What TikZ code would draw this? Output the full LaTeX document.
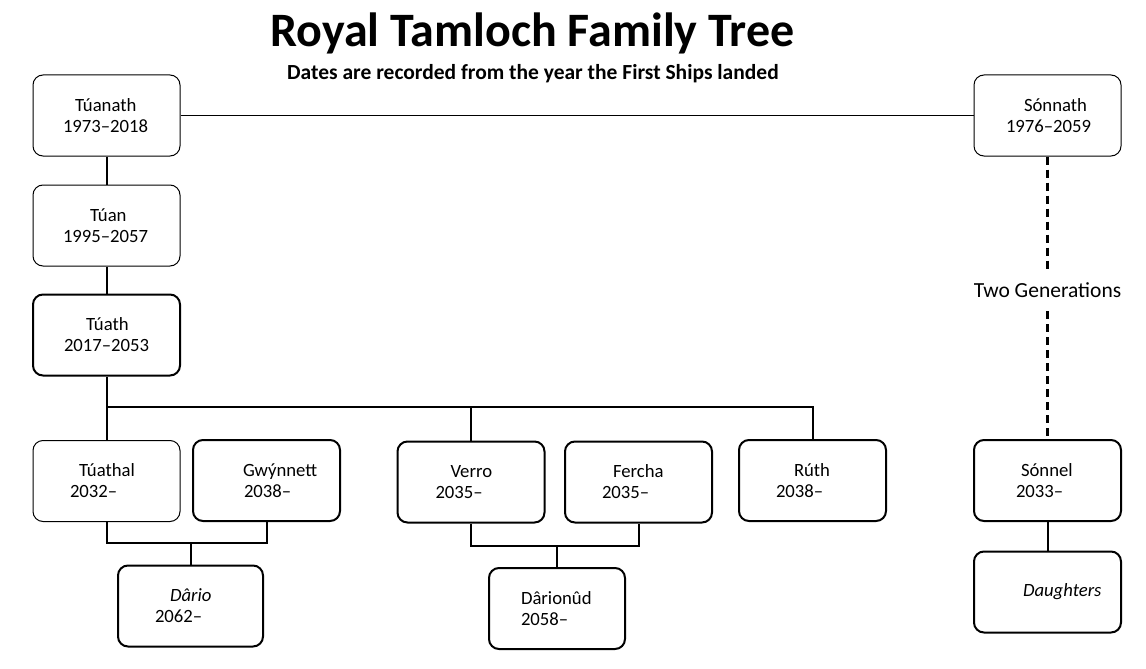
\documentclass[tikz,border=0pt]{standalone}
\usepackage{fontspec}
\setmainfont{Carlito}
\usepackage{tikz}
\usetikzlibrary{positioning}
\tikzstyle{person} = [rectangle, rounded corners=10pt, minimum width=147pt, text width=147pt, minimum height=81pt, inner xsep=0pt, inner ysep=0pt, align=left, draw=black, line width=1pt]
\tikzstyle{heir} = [person, line width=2pt]
\tikzstyle{link} = [line width=2pt]
\newcommand{\who}[4]{\hspace*{#1pt}#2\\\hspace*{#3pt}#4}

\begin{document}
\begin{tikzpicture}[x=1pt, y=-1pt, font=\fontsize{18.7}{21}\selectfont]
    \useasboundingbox (0,0) rectangle (1146,669);
    \node[font=\bfseries\fontsize{48}{52}\selectfont, anchor=base] (title) at (532.5,47) {Royal Tamloch Family Tree};
    \node[font=\bfseries\fontsize{21.5}{24}\selectfont, anchor=base] (subtitle) at (533,80) {Dates are recorded from the year the First Ships landed};

    \node[person] (tuanath) at (106.5,115.5) {\who{42}{Túanath}{30}{1973–2018}};
    \node[person, below=28pt of tuanath] (tuan) {\who{57}{Túan}{30}{1995–2057}};
    \node[heir, below=27pt of tuan] (tuath) {\who{53}{Túath}{31}{2017–2053}};
    \node[person] (sonnath) at (1047.5,115.5) {\who{50}{Sónnath}{32}{1976–2059}};
    \node[font=\fontsize{21.5}{24}\selectfont, inner sep=0pt, minimum height=42pt] (gens) at (1047.5,290) {Two Generations};

    \node[person] (tuathal) at (106.5,481) {\who{46}{Túathal}{37}{2032–}};
    \node[heir] (gwynnett) at (266.5,480.5) {\who{50}{Gwýnnett}{51}{2038–}};
    \node[heir] (verro) at (471,482) {\who{53}{Verro}{38}{2035–}};
    \node[heir] (fercha) at (638.5,482) {\who{48}{Fercha}{37}{2035–}};
    \node[heir] (ruth) at (812.5,480.5) {\who{55}{Rúth}{37}{2038–}};
    \node[heir] (sonnel) at (1047.5,480.5) {\who{47}{Sónnel}{42}{2033–}};

    \node[heir, minimum width=145pt, text width=145pt] (dario) at (190.5,606) {\who{52}{\textit{Dârio}}{37}{2062–}};
    \node[heir, minimum width=136pt, text width=136pt] (darionud) at (557,608.5) {\who{32}{Dârionûd}{32}{2058–}};
    \node[heir] (daughters) at (1047.5,592) {\hspace*{49pt}\textit{Daughters}};

    \coordinate (kids) at (106.5,407);
    \coordinate (c1) at (190.5,543);
    \coordinate (c2) at (557,546);

    \draw[line width=1pt] (tuanath) -- (sonnath);
    \draw[link] (tuanath) -- (tuan);
    \draw[link] (tuan) -- (tuath);
    \draw[link] (tuath) -- (kids) -- (tuathal);
    \draw[link] (kids) -| (verro);
    \draw[link] (kids) -| (ruth);
    \draw[link] (tuathal) |- (c1) -| (gwynnett);
    \draw[link] (c1) -- (dario);
    \draw[link] (verro) |- (c2) -| (fercha);
    \draw[link] (c2) -- (darionud);
    \draw[link, line width=2.2pt, dash pattern=on 8pt off 5pt] (sonnath) -- (gens);
    \draw[link, line width=2.2pt, dash pattern=on 8pt off 5pt] (gens) -- (sonnel);
    \draw[link] (sonnel) -- (daughters);
\end{tikzpicture}
\end{document}
